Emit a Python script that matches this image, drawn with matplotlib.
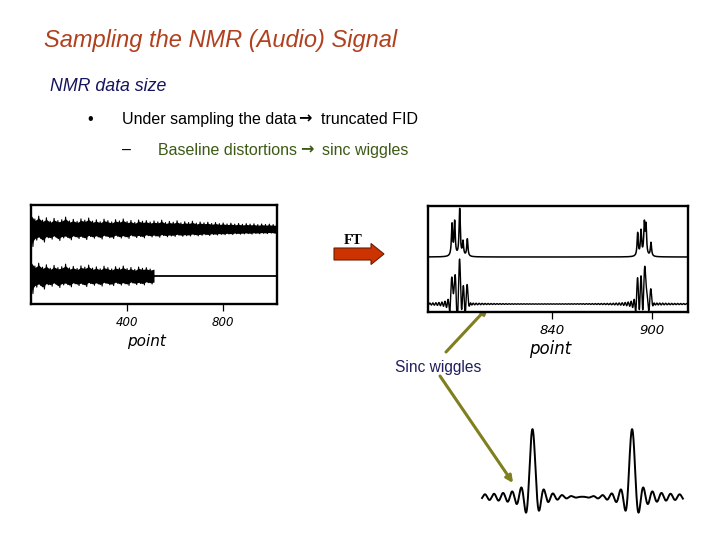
import numpy as np
import matplotlib
matplotlib.use("Agg")
import matplotlib.pyplot as plt
from matplotlib.patches import FancyArrow

# ---------------- data ----------------
title_text = "Sampling the NMR (Audio) Signal"
heading_text = "NMR data size"
bullet_parts = ["Under sampling the data", "\u2192", "truncated FID"]
sub_parts = ["Baseline distortions", "\u2192", "sinc wiggles"]
ft_label = "FT"
wiggle_label = "Sinc wiggles"
axis_label = "point"

# FID envelope (relative amplitude), one value every 16 points
fid_step = 16
fid_upper = [1.00, 0.62, 0.80, 0.55, 0.70, 0.48, 0.66, 0.52, 0.58, 0.74, 0.50, 0.60, 0.47, 0.63, 0.55, 0.68,
             0.49, 0.57, 0.45, 0.61, 0.52, 0.44, 0.58, 0.50, 0.62, 0.46, 0.53, 0.41, 0.56, 0.48, 0.52, 0.43,
             0.50, 0.44, 0.55, 0.40, 0.47, 0.42, 0.51, 0.38, 0.45, 0.40, 0.48, 0.36, 0.43, 0.38, 0.42, 0.34,
             0.40, 0.33, 0.37, 0.31, 0.36, 0.30, 0.34, 0.29, 0.33, 0.30, 0.32, 0.27, 0.31, 0.28, 0.30, 0.27, 0.29]
fid_lower = [1.10, 0.70, 0.58, 0.82, 0.55, 0.64, 0.50, 0.72, 0.56, 0.52, 0.68, 0.49, 0.60, 0.53, 0.66, 0.47,
             0.58, 0.50, 0.63, 0.46, 0.55, 0.60, 0.45, 0.57, 0.49, 0.59, 0.44, 0.54, 0.47, 0.56, 0.42, 0.50,
             0.45, 0.52, 0.41, 0.49, 0.44, 0.47, 0.39, 0.46, 0.42, 0.44, 0.37, 0.43, 0.40, 0.36, 0.41, 0.35,
             0.38, 0.34, 0.36, 0.32, 0.35, 0.30, 0.33, 0.31, 0.29, 0.32, 0.28, 0.30, 0.27, 0.29, 0.26, 0.28, 0.27]
fid_length = 1024
fid_trunc = 512
fid_ticks = [400, 800]

# spectrum peak list (point, relative height)
peak_pos = [780.0, 781.6, 784.6, 786.6, 789.2, 891.4, 893.4, 895.4, 896.4, 899.4]
peak_height = [0.67, 0.72, 1.00, 0.30, 0.37, 0.49, 0.53, 0.66, 0.62, 0.29]
spec_range = (765.6, 921.6)
spec_ticks = [840, 900]

# zoomed sinc illustration (arbitrary units 0-100)
zoom_peak_pos = [25.5, 73.8]
zoom_peak_height = [1.0, 1.0]
zoom_range = (1.0, 98.5)

# ---------------- figure ----------------
W, H = 720, 540
fig = plt.figure(figsize=(W / 100, H / 100), dpi=100)
fig.patch.set_facecolor("white")

def px_axes(x0, y0, x1, y1):
    return fig.add_axes([x0 / W, 1 - y1 / H, (x1 - x0) / W, (y1 - y0) / H])

SANS = ["Liberation Sans", "DejaVu Sans"]

ov = px_axes(0, 0, W, H)
ov.set_xlim(0, W)
ov.set_ylim(H, 0)
ov.axis("off")

ov.text(44, 47, title_text, fontsize=17, style="italic", color="#B0401E", family=SANS, va="baseline")
ov.text(50, 91, heading_text, fontsize=12.8, style="italic", color="#14145E", family=SANS, va="baseline")
ov.text(87, 124, "\u2022", fontsize=11.5, color="black", family=SANS, va="baseline")
ov.text(122, 124, bullet_parts[0], fontsize=11.5, color="black", family=SANS, va="baseline")
ov.text(298, 119, bullet_parts[1], fontsize=11.5, fontweight="bold", color="black", family="DejaVu Sans", va="center")
ov.text(321, 124, bullet_parts[2], fontsize=11.5, color="black", family=SANS, va="baseline")
ov.text(122, 155, "\u2013", fontsize=11.5, color="black", family=SANS, va="baseline")
sub_col = "#3C5A16"
ov.text(158, 155, sub_parts[0], fontsize=11.5, color=sub_col, family=SANS, va="baseline")
ov.text(300, 150, sub_parts[1], fontsize=11.5, fontweight="bold", color=sub_col, family="DejaVu Sans", va="center")
ov.text(322, 155, sub_parts[2], fontsize=11.5, color=sub_col, family=SANS, va="baseline")
ov.text(395, 372, wiggle_label, fontsize=11.2, color="#20205C", family=SANS, va="baseline")
ov.text(353, 241, ft_label, fontsize=10.5, fontweight="bold", family=["Liberation Serif", "DejaVu Serif"],
        ha="center", va="center", color="black")
ov.add_patch(FancyArrow(334, 254, 50, 0, width=12, head_width=21, head_length=13,
                        length_includes_head=True, fc="#CC3300", ec="#6E1E00", lw=0.8))

olive = "#7F7F1E"
ov.annotate("", xy=(488, 307), xytext=(446, 352),
            arrowprops=dict(arrowstyle="-|>", color=olive, lw=2.2, mutation_scale=10, shrinkA=0, shrinkB=0))
ov.annotate("", xy=(513, 483), xytext=(440, 376),
            arrowprops=dict(arrowstyle="-|>", color=olive, lw=2.2, mutation_scale=10, shrinkA=0, shrinkB=0))

# ---------------- FID panel ----------------
ax1 = px_axes(31, 205, 277, 304)
fid_amp = 0.34
core = 0.85
up = np.array(fid_upper, dtype=float)
lo = np.array(fid_lower, dtype=float)
ex = np.arange(len(up)) * fid_step
xs, ys = [], []
for i in range(len(up)):
    xs.append(i * fid_step)
    ys.append(up[i])
    xs.append(i * fid_step + fid_step / 2)
    ys.append(-lo[i])
xs = np.array(xs, dtype=float)
ys = np.array(ys, dtype=float)

# full FID (top trace, offset 1)
ax1.fill_between(ex, 1 + fid_amp * core * up, 1 - fid_amp * core * lo, color="black", lw=0)
ax1.plot(xs, 1 + fid_amp * ys, color="black", lw=0.8)
# truncated FID (bottom trace)
m = ex <= fid_trunc
ax1.fill_between(ex[m], fid_amp * core * up[m], -fid_amp * core * lo[m], color="black", lw=0)
keep = xs < fid_trunc
bx = np.concatenate([xs[keep], [fid_trunc, fid_length]])
by = np.concatenate([ys[keep], [0, 0]])
ax1.plot(bx, fid_amp * by, color="black", lw=0.8)
ax1.plot([fid_trunc, fid_length], [0, 0], color="black", lw=1.1)
ax1.set_xlim(0, fid_length)
ax1.set_ylim(-0.596, 1.509)

# ---------------- spectrum panel ----------------
ax2 = px_axes(428, 206, 688, 312)
xg = np.linspace(spec_range[0], spec_range[1], 8000)
hw = 0.42
top = np.zeros_like(xg)
bot = np.zeros_like(xg)
for p, h in zip(peak_pos, peak_height):
    top += h * hw ** 2 / ((xg - p) ** 2 + hw ** 2)
    bot += h * np.sinc((xg - p) / 0.9)
ax2.plot(xg, 1 + 1.036 * top / top.max(), color="black", lw=1.1)
ax2.plot(xg, 0.957 * bot / bot.max(), color="black", lw=1.0)
ax2.set_xlim(*spec_range)
ax2.set_ylim(-0.170, 2.085)

tick_font = dict(family="DejaVu Sans", style="italic")
for ax, ticks, size, lsize, ly in ((ax1, fid_ticks, 8.5, 11, -0.30), (ax2, spec_ticks, 9.5, 12, -0.26)):
    for s in ax.spines.values():
        s.set_linewidth(1.7)
        s.set_color("black")
    ax.set_yticks([])
    ax.set_xticks(ticks)
    ax.set_xticklabels([str(t) for t in ticks], fontsize=size, **tick_font)
    ax.tick_params(axis="x", direction="out", length=5, width=0.9, pad=4)
    ax.set_xlabel(axis_label, fontsize=lsize, labelpad=1, **tick_font)
    ax.xaxis.set_label_coords(0.47, ly)

# ---------------- zoomed sinc ----------------
ax3 = px_axes(480, 425, 686, 520)
zx = np.linspace(zoom_range[0], zoom_range[1], 4000)
zy = np.zeros_like(zx)
for p, h in zip(zoom_peak_pos, zoom_peak_height):
    zy += h * np.sinc((zx - p) / 2.2)
ax3.plot(zx, zy, color="black", lw=1.4)
ax3.set_xlim(0, 100)
ax3.set_ylim(-0.338, 1.059)
ax3.axis("off")

fig.savefig("out.png", dpi=100, facecolor="white")
